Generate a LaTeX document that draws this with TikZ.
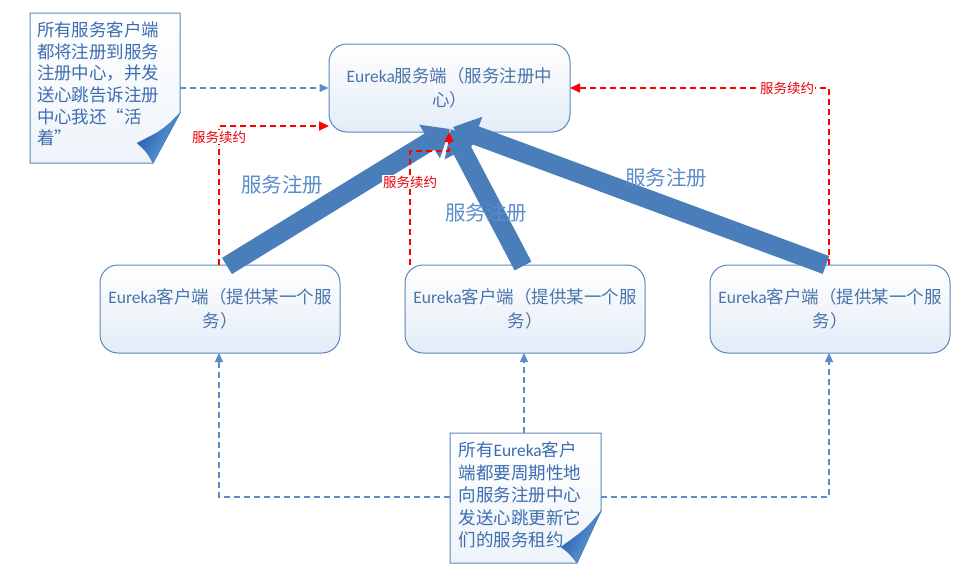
\documentclass[tikz,border=0pt]{standalone}
\usepackage{fontspec}
\setmainfont{Noto Sans CJK SC}
\newfontfamily\latf{Carlito}
\usetikzlibrary{arrows.meta,calc}
\definecolor{boxborder}{HTML}{5B87BE}
\definecolor{boxfill}{HTML}{E3ECF7}
\definecolor{boxtext}{HTML}{4A74AA}
\definecolor{notetext}{HTML}{3D6DB0}
\definecolor{labelblue}{HTML}{5B8DCB}
\definecolor{arrowblue}{HTML}{4A7EBB}
\definecolor{dashblue}{HTML}{5B8CC6}
\definecolor{dashred}{HTML}{FF0000}
\definecolor{labelred}{HTML}{E8000B}
\definecolor{folddark}{HTML}{1C5AA8}
\definecolor{foldlight}{HTML}{6FA4DE}
\begin{document}
\begin{tikzpicture}[x=1pt,y=-1pt,
  server/.style={draw=boxborder, line width=1pt, rounded corners=18pt,
    top color=white, bottom color=boxfill, minimum width=241pt, minimum height=88pt,
    align=center, text=boxtext, inner sep=0pt, font=\fontsize{17.5}{23.5}\selectfont},
  client/.style={server, minimum width=240pt},
  noteshape/.style={draw=boxborder, line width=1pt, top color=white, bottom color=boxfill!60},
  notetxt/.style={text width=123pt, align=left, inner sep=0pt, text=notetext},
  notearea/.style={minimum width=#1, inner sep=0pt},
  fold/.style={left color=folddark, right color=foldlight, shading angle=60},
  block/.style={draw=arrowblue, line width=19pt, -{Triangle[length=24pt,width=38pt]}},
  bdash/.style={draw=dashblue, line width=1.4pt, dash pattern=on 6pt off 4pt, -{Triangle[length=9pt,width=8pt]}},
  rdash/.style={draw=dashred, line width=1.4pt, dash pattern=on 6pt off 4pt, -{Triangle[length=10pt,width=9pt]}},
  rlabel/.style={fill=white, inner sep=1pt, text=labelred, font=\fontsize{13.5}{15}\selectfont},
  reglabel/.style={text=labelblue, font=\fontsize{20.5}{22}\selectfont}
]
\useasboundingbox[fill=white] (0,0) rectangle (970,573);

% boxes
\node[server] (srv) at (449.5,88) {{\latf Eureka}服务端（服务注册中\\心）};
\node[client] (c1) at (220,309) {{\latf Eureka}客户端（提供某一个服\\务）};
\node[client] (c2) at (525,309) {{\latf Eureka}客户端（提供某一个服\\务）};
\node[client] (c3) at (830,309) {{\latf Eureka}客户端（提供某一个服\\务）};

% note 1
\shade[noteshape] (30,13) -- (180,13) -- (180,113) -- (153,163) -- (30,163) -- cycle;
\shade[fold, draw=folddark!80, line width=0.4pt] (180,113) .. controls (163,130) .. (137,143) .. controls (146,151) .. (153,163) -- cycle;
\node[notearea=150pt, minimum height=150pt] (n1) at (105,88) {};
\node[notetxt, font=\fontsize{17.5}{21.6}\selectfont] (t1) at (98.5,84)
  {所有服务客户端\\都将注册到服务\\注册中心，并发\\送心跳告诉注册\\中心我还“活\\着”};

% note 2
\shade[noteshape] (450,433) -- (601,433) -- (601,511) -- (577,563) -- (450,563) -- cycle;
\shade[fold, draw=folddark!80, line width=0.4pt] (601,511) .. controls (586,529) .. (561,547) .. controls (569,553) .. (577,563) -- cycle;
\node[notearea=151pt, minimum height=130pt] (n2) at (525.5,498) {};
\node[notetxt, font=\fontsize{17.5}{22.5}\selectfont] (t2) at (520,495)
  {所有{\latf Eureka}客户\\端都要周期性地\\向服务注册中心\\发送心跳更新它\\们的服务租约};

% block arrows (service registration)
\coordinate (b1s) at (227,266); \coordinate (b1e) at (450,129);
\coordinate (b2s) at (523,266); \coordinate (b2e) at (451,129);
\coordinate (b3s) at (826,265); \coordinate (b3e) at (453,127);
\draw[block] (b2s) -- (b2e);
\draw[block] (b1s) -- (b1e);
\draw[block] (b3s) -- (b3e);
\node[reglabel] (g1) at (282,185) {服务注册};
\node[reglabel] (g2) at (486,213) {服务注册};
\node[reglabel] (g3) at (666,178) {服务注册};

% note 1 to server
\draw[bdash] (n1.east) -- (n1.east -| srv.west);

% renewals (red)
\coordinate (r1a) at (219,265); \coordinate (r1b) at (219,126); \coordinate (r1c) at (329,126);
\draw[rdash] (r1a) -- (r1b) -- (r1c);
\node[rlabel] (l1) at (219,137) {服务续约};
\coordinate (r2a) at (410,265); \coordinate (r2b) at (410,151); \coordinate (r2c) at (449,151); \coordinate (r2d) at (449,132);
\draw[rdash] (r2a) -- (r2b) -- (r2c) -- (r2d);
\node[rlabel] (l2) at (410,182) {服务续约};
\coordinate (r3a) at (829,265); \coordinate (r3b) at (829,88); \coordinate (r3c) at (570,88);
\draw[rdash] (r3a) -- (r3b) -- (r3c);
\node[rlabel] (l3) at (787,88) {服务续约};

% heartbeats from note 2
\coordinate (h1a) at (450,497); \coordinate (h1b) at (219,497); \coordinate (h1c) at (219,353);
\draw[bdash] (h1a) -- (h1b) -- (h1c);
\coordinate (h2a) at (524,433); \coordinate (h2b) at (524,353);
\draw[bdash] (h2a) -- (h2b);
\coordinate (h3a) at (601,497); \coordinate (h3b) at (829,497); \coordinate (h3c) at (829,353);
\draw[bdash] (h3a) -- (h3b) -- (h3c);
\end{tikzpicture}
\end{document}
